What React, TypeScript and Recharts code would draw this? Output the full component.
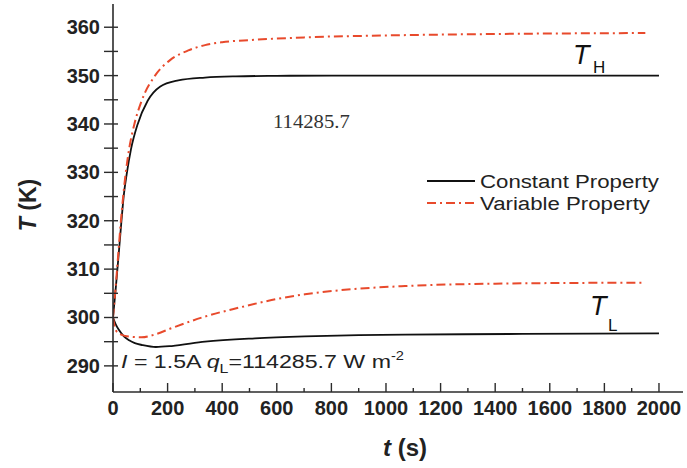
import { LineChart, Line, XAxis, YAxis, Legend } from 'recharts';

// time (s) and temperature (K)
const tConstH = [0, 10, 20, 31, 40, 50, 66, 90, 127, 172, 239, 337, 450, 600, 800, 1200, 2000];
const constH = [300, 306, 312.5, 320, 325.5, 329.6, 334.8, 339.9, 344.8, 347.7, 349, 349.6, 349.85, 349.95, 350, 350, 350];

const tVarH = [0, 10, 15, 29, 46, 59, 78, 105, 154, 209, 276, 337, 400, 500, 600, 700, 1000, 1400, 1950];
const varH = [300, 306.5, 310, 320, 329.6, 334.8, 339.9, 344.8, 350, 353.2, 355.2, 356.3, 356.9, 357.35, 357.65, 357.9, 358.3, 358.6, 358.8];

const tConstL = [0, 10, 22, 40, 59, 80, 108, 157, 215, 337, 520, 703, 900, 1070, 1500, 2000];
const constL = [300, 298.6, 297.4, 296.1, 295.3, 294.7, 294.3, 293.9, 294.1, 295, 295.7, 296.1, 296.35, 296.45, 296.6, 296.7];

const tVarL = [0, 10, 25, 44, 70, 105, 154, 215, 337, 459, 581, 703, 886, 1070, 1400, 1950];
const varL = [300, 297.4, 296.6, 296.2, 296, 295.9, 296.5, 297.8, 300.2, 302, 303.6, 304.8, 305.9, 306.5, 307, 307.2];

const xTicks = Array.from({ length: 21 }, (_, i) => i * 100);
const yTicks = Array.from({ length: 15 }, (_, i) => 290 + i * 5);

const RED = '#e84a2c';
const AXIS = '#2b2b2b';
const FONT = '"Liberation Sans", Arial, sans-serif';

const zip = (ts: number[], vs: number[]) => ts.map((t, i) => ({ t, T: vs[i] }));

function BottomTick({ x, y, payload }: any) {
  const v = payload.value;
  const major = v % 200 === 0;
  return (
    <g>
      <line x1={x} x2={x} y1={y} y2={y - (major ? 9 : 4)} stroke={AXIS} strokeWidth={1.4} />
      {major && (
        <text x={x} y={y + 23} textAnchor="middle" fontFamily={FONT} fontWeight="bold" fontSize={20} fill="#222">
          {v}
        </text>
      )}
    </g>
  );
}

function TopTick({ x, y, payload }: any) {
  const major = payload.value % 200 === 0;
  return <line x1={x} x2={x} y1={y} y2={y + (major ? 7 : 4)} stroke={AXIS} strokeWidth={1.4} />;
}

function LeftTick({ x, y, payload }: any) {
  const v = payload.value;
  const major = v % 10 === 0;
  return (
    <g>
      <line x1={x - 9} x2={x + 5} y1={y} y2={y} stroke={AXIS} strokeWidth={1.4} />
      {major && (
        <text x={x - 13} y={y + 7} textAnchor="end" fontFamily={FONT} fontWeight="bold" fontSize={20} fill="#222">
          {v}
        </text>
      )}
    </g>
  );
}

function RightTick({ x, y }: any) {
  return <line x1={x} x2={x - 7} y1={y} y2={y} stroke={AXIS} strokeWidth={1.4} />;
}

function LegendBox() {
  const rows = [
    { name: 'Constant Property', color: '#111', dash: undefined },
    { name: 'Variable Property', color: RED, dash: '9 4 2 4' },
  ];
  return (
    <svg width={262} height={48}>
      {rows.map((r, i) => (
        <g key={r.name} transform={`translate(0, ${12 + i * 22})`}>
          <line x1={2} x2={50} y1={0} y2={0} stroke={r.color} strokeWidth={2} strokeDasharray={r.dash} />
          <text transform="translate(55, 7) scale(1.17, 1)" fontFamily={FONT} fontSize={19} fill="#222">
            {r.name}
          </text>
        </g>
      ))}
    </svg>
  );
}

export default function App() {
  return (
    <div style={{ position: 'absolute', left: 0, top: 0, width: 687, height: 468, background: '#fff' }}>
      <LineChart width={687} height={468} margin={{ top: 4, right: 4, bottom: 0, left: 0 }}>
        <XAxis
          xAxisId="b"
          type="number"
          dataKey="t"
          domain={[0, 2088]}
          ticks={xTicks}
          interval={0}
          height={76}
          tickSize={0}
          tickMargin={0}
          tickLine={false}
          tick={<BottomTick />}
          axisLine={{ stroke: AXIS, strokeWidth: 1.6 }}
          allowDataOverflow
        />
        <XAxis
          xAxisId="top"
          orientation="top"
          type="number"
          dataKey="t"
          domain={[0, 2088]}
          ticks={xTicks}
          interval={0}
          height={0}
          tickSize={0}
          tickMargin={0}
          tickLine={false}
          tick={<TopTick />}
          axisLine={{ stroke: AXIS, strokeWidth: 1.6 }}
          allowDataOverflow
        />
        <YAxis
          yAxisId="l"
          type="number"
          domain={[284.6, 364.8]}
          ticks={yTicks}
          interval={0}
          width={113}
          tickSize={0}
          tickMargin={0}
          tickLine={false}
          tick={<LeftTick />}
          axisLine={{ stroke: AXIS, strokeWidth: 1.6 }}
          allowDataOverflow
        />
        <YAxis
          yAxisId="r"
          orientation="right"
          type="number"
          domain={[284.6, 364.8]}
          ticks={yTicks}
          interval={0}
          width={0}
          tickSize={0}
          tickMargin={0}
          tickLine={false}
          tick={<RightTick />}
          axisLine={{ stroke: AXIS, strokeWidth: 1.6 }}
          allowDataOverflow
        />
        <Line xAxisId="b" yAxisId="l" data={zip(tConstH, constH)} dataKey="T" type="monotone" stroke="#111" strokeWidth={1.8} dot={false} isAnimationActive={false} name="Constant Property" />
        <Line xAxisId="b" yAxisId="l" data={zip(tConstL, constL)} dataKey="T" type="monotone" stroke="#111" strokeWidth={1.8} dot={false} isAnimationActive={false} legendType="none" />
        <Line xAxisId="b" yAxisId="l" data={zip(tVarH, varH)} dataKey="T" type="monotone" stroke={RED} strokeWidth={2} strokeDasharray="9 4 2 4" dot={false} isAnimationActive={false} name="Variable Property" />
        <Line xAxisId="b" yAxisId="l" data={zip(tVarL, varL)} dataKey="T" type="monotone" stroke={RED} strokeWidth={2} strokeDasharray="9 4 2 4" dot={false} isAnimationActive={false} legendType="none" />
        <Legend
          layout="horizontal"
          verticalAlign="middle"
          align="center"
          content={<LegendBox />}
          wrapperStyle={{ left: 425, top: 169, width: 262, height: 48 }}
        />
      </LineChart>
      <svg width={687} height={468} style={{ position: 'absolute', left: 0, top: 0, pointerEvents: 'none' }}>
        <text
          transform="translate(273, 128) scale(1.15, 1)"
          fontFamily='"Liberation Serif", "Times New Roman", serif'
          fontSize={18}
          fill="#333"
        >
          114285.7
        </text>
        <text x={573} y={64} fontFamily={FONT} fontSize={27} fontStyle="italic" fill="#111">
          T
        </text>
        <text x={593} y={73} fontFamily={FONT} fontSize={17} fill="#111">
          H
        </text>
        <text x={590} y={315} fontFamily={FONT} fontSize={27} fontStyle="italic" fill="#111">
          T
        </text>
        <text x={608} y={331} fontFamily={FONT} fontSize={17} fill="#111">
          L
        </text>
        <text transform="translate(121, 368) scale(1.22, 1)" fontFamily={FONT} fontSize={19} fill="#222">
          <tspan fontStyle="italic">I</tspan>
          <tspan> = 1.5A </tspan>
          <tspan fontStyle="italic">q</tspan>
          <tspan fontSize={13} dy={5}>L</tspan>
          <tspan dy={-5}>=114285.7 W m</tspan>
          <tspan fontSize={12} dy={-8}>-2</tspan>
        </text>
        <text
          transform="translate(36, 205) rotate(-90)"
          textAnchor="middle"
          fontFamily={FONT}
          fontWeight="bold"
          fontSize={23}
          fill="#222"
        >
          <tspan fontStyle="italic">T</tspan> (K)
        </text>
        <text x={405} y={456} textAnchor="middle" fontFamily={FONT} fontWeight="bold" fontSize={24} fill="#222">
          <tspan fontStyle="italic">t</tspan> (s)
        </text>
      </svg>
    </div>
  );
}
